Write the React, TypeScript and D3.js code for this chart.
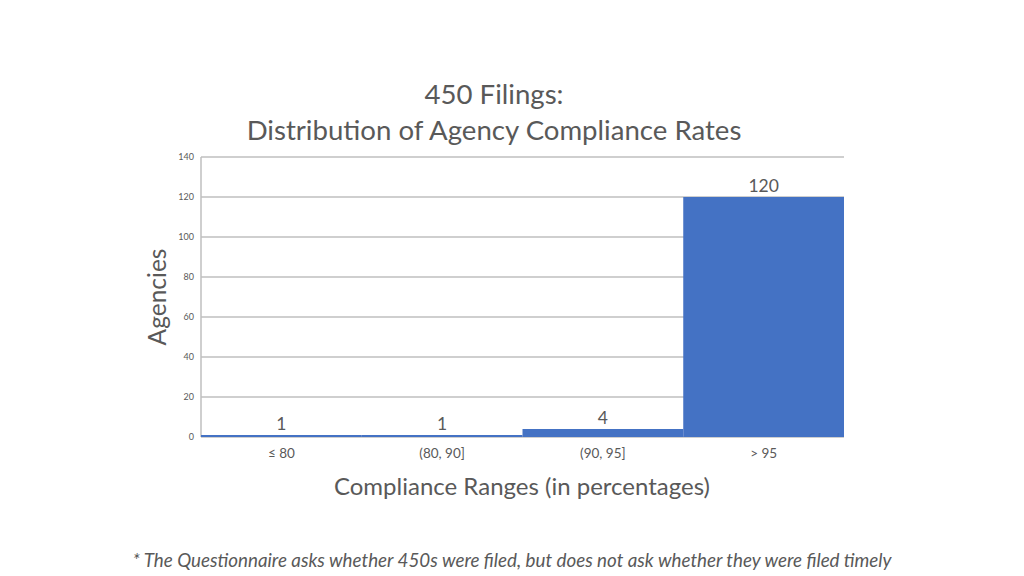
import React from "react";
import * as d3 from "d3";

const categories = ["≤ 80", "(80, 90]", "(90, 95]", "> 95"];
const values = [1, 1, 4, 120];
const yTicks = [0, 20, 40, 60, 80, 100, 120, 140];

const W = 1024, H = 576;
const M = { left: 201, right: 844, top: 157, bottom: 437 };
const FONT = "Lato, 'Open Sans', sans-serif";

export default function App() {
  const x = d3.scaleBand<string>().domain(categories).range([M.left, M.right]).padding(0);
  const y = d3.scaleLinear().domain([0, 140]).range([M.bottom, M.top]);
  return (
    <svg width={W} height={H} style={{ position: "absolute", left: 0, top: 0, background: "#fff" }}>
      <text x={494} y={104} textAnchor="middle" fontFamily={FONT} fontSize={27.6} fill="#595959">450 Filings:</text>
      <text x={494} y={140} textAnchor="middle" fontFamily={FONT} fontSize={27.6} fill="#595959">Distribution of Agency Compliance Rates</text>
      {yTicks.map((t) => (
        <g key={t}>
          <line x1={M.left} x2={M.right} y1={y(t)} y2={y(t)} stroke="#bfbfbf" strokeWidth={1.5} />
          <text x={M.left - 7} y={y(t) + 3} textAnchor="end" fontFamily={FONT} fontSize={9} fill="#595959">{t}</text>
        </g>
      ))}
      <line x1={M.left} x2={M.left} y1={M.top} y2={M.bottom} stroke="#bfbfbf" strokeWidth={1.5} />
      {categories.map((c, i) => (
        <g key={c}>
          <rect x={x(c)!} y={y(values[i])} width={x.bandwidth()} height={y(0) - y(values[i])} fill="#4472c4" />
          <text x={x(c)! + x.bandwidth() / 2} y={y(values[i]) - 5} textAnchor="middle" fontFamily={FONT} fontSize={17.5} fill="#595959">{values[i]}</text>
          <text x={x(c)! + x.bandwidth() / 2} y={458} textAnchor="middle" fontFamily={FONT} fontSize={13.5} fill="#595959">{c}</text>
        </g>
      ))}
      <text transform={`translate(166,297) rotate(-90)`} textAnchor="middle" fontFamily={FONT} fontSize={24.5} fill="#595959">Agencies</text>
      <text x={522} y={495} textAnchor="middle" fontFamily={FONT} fontSize={24} fill="#595959">Compliance Ranges (in percentages)</text>
      <text x={512} y={567} textAnchor="middle" fontFamily={FONT} fontSize={18.8} fontStyle="italic" fill="#595959">* The Questionnaire asks whether 450s were filed, but does not ask whether they were filed timely</text>
    </svg>
  );
}
